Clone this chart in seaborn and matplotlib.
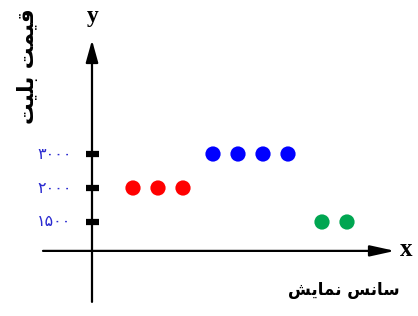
import matplotlib
matplotlib.use("Agg")
import matplotlib.pyplot as plt
import seaborn as sns
import pandas as pd

# ---- data ----
group_red_x = [1.64, 2.64, 3.64]
group_blue_x = [4.84, 5.84, 6.84, 7.84]
group_green_x = [9.20, 10.20]
price_red = 2000
price_blue = 3000
price_green = 1500
price_levels = [1500, 2000, 3000]
tick_labels = ["۱۵۰۰", "۲۰۰۰", "۳۰۰۰"]
group_names = ["red", "blue", "green"]
palette = {"red": "#ff0000", "blue": "#0000ff", "green": "#00a651"}

# Persian labels, shaped with Arabic presentation forms in visual order
xlabel_text = "ﺶﻳﺎﻤﻧ ﺲﻧﺎﺳ"     # سانس نمایش
ylabel_text = "ﺖﻴﻠﺑ ﺖﻤﻴﻗ"       # قیمت بلیت

level_of = {p: i + 1 for i, p in enumerate(price_levels)}
df = pd.DataFrame({
    "x": group_red_x + group_blue_x + group_green_x,
    "price": [price_red] * len(group_red_x) + [price_blue] * len(group_blue_x)
             + [price_green] * len(group_green_x),
    "group": ["red"] * len(group_red_x) + ["blue"] * len(group_blue_x)
             + ["green"] * len(group_green_x),
})
df["level"] = df["price"].map(level_of)

sns.set_style("white")
fig = plt.figure(figsize=(4.18, 3.16), dpi=100)
ax = fig.add_axes([0, 0, 1, 1])
ax.set_xlim(-3.68, 13.04)
ax.set_ylim(-1.765, 7.53)
ax.axis("off")

sns.scatterplot(data=df, x="x", y="level", hue="group", palette=palette,
                hue_order=group_names, s=120, linewidth=0, legend=False, ax=ax,
                zorder=3)

# axes with arrows
ax.annotate("", xy=(0, 6.35), xytext=(0, -1.35),
            arrowprops=dict(arrowstyle="-|>,head_length=0.9,head_width=0.25",
                            mutation_scale=15, lw=1.6, color="black",
                            shrinkA=0, shrinkB=0))
ax.annotate("", xy=(12.12, 0.15), xytext=(-1.96, 0.15),
            arrowprops=dict(arrowstyle="-|>,head_length=1.0,head_width=0.22",
                            mutation_scale=15, lw=1.6, color="black",
                            shrinkA=0, shrinkB=0))

# tick marks and labels
levels = [level_of[p] for p in price_levels]
ax.hlines(levels, -0.26, 0.26, color="black", lw=4.5, zorder=4)
for lv, lab in zip(levels, tick_labels):
    ax.text(-0.82, lv, lab, ha="right", va="center", color="#2a2ad0",
            fontsize=11.5, family="DejaVu Sans")

ax.text(0.04, 7.03, "y", ha="center", va="center", fontsize=17,
        fontweight="bold", family="Liberation Serif", color="black")
ax.text(12.56, 0.2, "x", ha="center", va="center", fontsize=18,
        fontweight="bold", family="Liberation Serif", color="black")

ax.text(10.08, -1.0, xlabel_text, ha="center", va="center", fontsize=12,
        fontweight="bold", family="DejaVu Sans", color="black")
ax.text(-2.6, 5.59, ylabel_text, ha="center", va="center", fontsize=15.5,
        fontweight="bold", family="DejaVu Sans", rotation=90, color="black")

fig.savefig("out.png", dpi=100)
